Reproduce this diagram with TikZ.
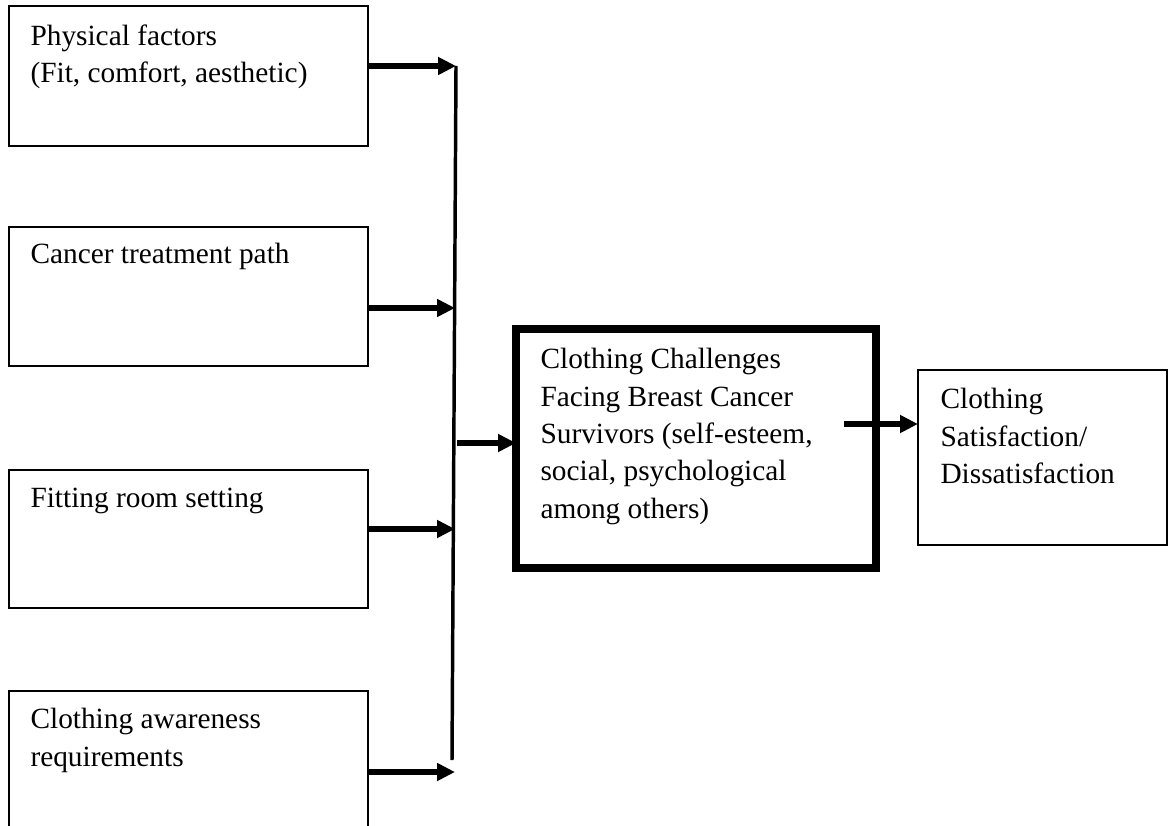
\documentclass[tikz,border=0pt]{standalone}
\usepackage{fontspec}
\setmainfont{Liberation Serif}
\usetikzlibrary{arrows.meta}
\newlength\pxu \setlength\pxu{0.375pt}
\tikzset{
  factor/.style={draw, line width=0.75pt, inner sep=0pt, outer sep=0pt, anchor=north west},
  boxtext/.style={anchor=north west, inner sep=0pt, align=left, font=\fontsize{11}{14}\selectfont},
  feed/.style={line width=2.25pt, -{Triangle[length=6.75pt,width=6.4pt]}}
}
\begin{document}
\begin{tikzpicture}[x=0.375pt, y=-0.375pt]
  \useasboundingbox (0,0) rectangle (1168,826);
  \clip (0,0) rectangle (1168,826);
  % the four factors
  \node [factor, minimum width=359*\pxu, minimum height=140*\pxu] (phys) at (9,6) {};
  \node [factor, minimum width=359*\pxu, minimum height=139*\pxu] (treat) at (9,227) {};
  \node [factor, minimum width=359*\pxu, minimum height=138*\pxu] (room) at (9,470) {};
  \node [factor, minimum width=359*\pxu, minimum height=160*\pxu] (aware) at (9,691) {};
  \node [boxtext] (physT) at ([shift={(21,13)}]phys.north west) {\strut Physical factors\\(Fit, comfort, aesthetic)};
  \node [boxtext] (treatT) at ([shift={(21,10)}]treat.north west) {\strut Cancer treatment path};
  \node [boxtext] (roomT) at ([shift={(21,11)}]room.north west) {\strut Fitting room setting};
  \node [boxtext] (awareT) at ([shift={(21,11)}]aware.north west) {\strut Clothing awareness\\requirements};
  % challenges and outcome
  \node [factor, line width=3pt, minimum width=360*\pxu, minimum height=239*\pxu] (chall) at (516,329) {};
  \node [boxtext] (challT) at ([shift={(24,13)}]chall.north west)
    {\strut Clothing Challenges\\Facing Breast Cancer\\Survivors (self-esteem,\\social, psychological\\among others)};
  \node [factor, minimum width=249*\pxu, minimum height=175*\pxu] (sat) at (918,370) {};
  \node [boxtext] (satT) at ([shift={(22,12)}]sat.north west) {\strut Clothing\\Satisfaction/\\Dissatisfaction};
  % collecting line
  \coordinate (in1) at (456,66);
  \coordinate (in2) at (455,308);
  \coordinate (in3) at (455,529);
  \coordinate (in4) at (455,772);
  \coordinate (hubbot) at (452,760);
  \coordinate (out) at (457,443);
  \coordinate (res) at (844,424);
  \draw [line width=1.3pt] (in1) -- (hubbot);
  \draw [feed] (phys.east |- in1) -- (in1);
  \draw [feed] (treat.east |- in2) -- (in2);
  \draw [feed] (room.east |- in3) -- (in3);
  \draw [feed] (aware.east |- in4) -- (in4);
  \draw [feed] (out) -- (chall.west |- out);
  \draw [feed] (res) -- (sat.west |- res);
\end{tikzpicture}
\end{document}
